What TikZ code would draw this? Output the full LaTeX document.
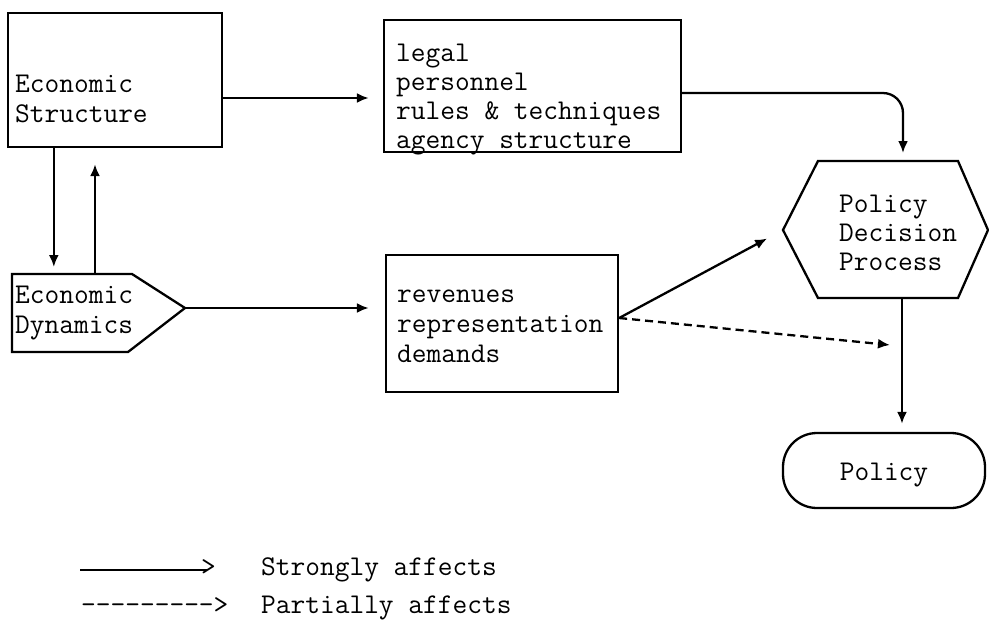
\documentclass[tikz,border=0pt]{standalone}
\usepackage{fontspec}
\usetikzlibrary{arrows.meta,calc}
\begin{document}
\begin{tikzpicture}[x=1pt,y=-1pt,line width=2.3pt,
  box/.style={draw,line width=2.3pt,inner sep=0pt},
  txt/.style={font=\ttfamily\fontsize{28.6}{30}\selectfont\addfontfeatures{FakeBold=0.8},inner sep=0pt,align=left},
  txtb/.style={font=\ttfamily\fontsize{28.6}{29}\selectfont\addfontfeatures{FakeBold=0.8},inner sep=0pt,align=left},
  arr/.style={-{Latex[length=12pt,width=10pt]},line width=2.3pt},
  dsh/.style={arr,dash pattern=on 8pt off 5pt}]
\useasboundingbox (0,0) rectangle (989,641);
% boxes
\node[box,minimum width=214pt,minimum height=134pt] (es) at (115,80) {};
\node[box,minimum width=297pt,minimum height=132pt] (ls) at (532.5,86) {};
\node[box,minimum width=232pt,minimum height=137pt] (rv) at (502,323.5) {};
\node[box,rounded corners=34pt,minimum width=202pt,minimum height=75pt] (pol) at (884,470.5) {};
% pentagon
\coordinate (edA) at (12,274);
\coordinate (edB) at (132,274);
\coordinate (edT) at (185,308);
\coordinate (edC) at (128,352);
\coordinate (edD) at (12,352);
\draw (edA) -- (edB) -- (edT) -- (edC) -- (edD) -- cycle;
% hexagon
\coordinate (hL) at (783,230);
\coordinate (hTL) at (818,161);
\coordinate (hTR) at (958,161);
\coordinate (hR) at (988,230);
\coordinate (hBR) at (958,298);
\coordinate (hBL) at (818,298);
\draw (hL) -- (hTL) -- (hTR) -- (hR) -- (hBR) -- (hBL) -- cycle;
% texts (base anchor = last line)
\node[txt,anchor=base west] (est) at (14,122) {Economic\\Structure};
\node[txtb,anchor=base west] (lst) at (395,148) {legal\\personnel\\rules \& techniques\\agency structure};
\node[txt,anchor=base west] (edt) at (14,333) {Economic\\Dynamics};
\node[txt,anchor=base west] (rvt) at (396,362) {revenues\\representation\\demands};
\node[txtb,anchor=base west] (pdt) at (838,270) {Policy\\Decision\\Process};
\node[txt,anchor=base] (polt) at (884,480) {Policy};
% connectors
\draw[arr,shorten >=14pt] ([yshift=-18pt]es.east) -- ([yshift=-18pt]es.east -| ls.west);
\draw[arr,shorten >=7pt] ([xshift=47pt]es.south west) -- ([xshift=47pt]es.south west |- edA);
\draw[arr,shorten >=16pt] ([xshift=83pt]edA) -- ([xshift=83pt]edA |- es.south);
\draw[arr,shorten >=16pt] (edT) -- (edT -| rv.west);
\coordinate (rvo) at ([yshift=5.5pt]rv.east);
\draw[arr,shorten >=18pt] (rvo) -- (hL);
\coordinate (dend) at (890,345);
\draw[dsh] (rvo) -- (dend);
\coordinate (htop) at (903,161);
\draw[arr,rounded corners=20pt,shorten >=8pt] ([yshift=-7pt]ls.east) -| (htop);
\coordinate (hbot) at (902,298);
\draw[arr,shorten >=8pt] (hbot) -- (hbot |- pol.north);
% legend
\coordinate (l1a) at (80,570);
\coordinate (l1b) at (207,570);
\draw (l1a) -- (l1b);
\node[txt,anchor=base west] (l1g) at (200,575) {>};
\node[txt,anchor=base west] (l1t) at (260,575) {Strongly affects};
\node[txt,anchor=base west] (l2g) at (80,613) {--------->};
\node[txt,anchor=base west] (l2t) at (260,613) {Partially affects};
\end{tikzpicture}
\end{document}
